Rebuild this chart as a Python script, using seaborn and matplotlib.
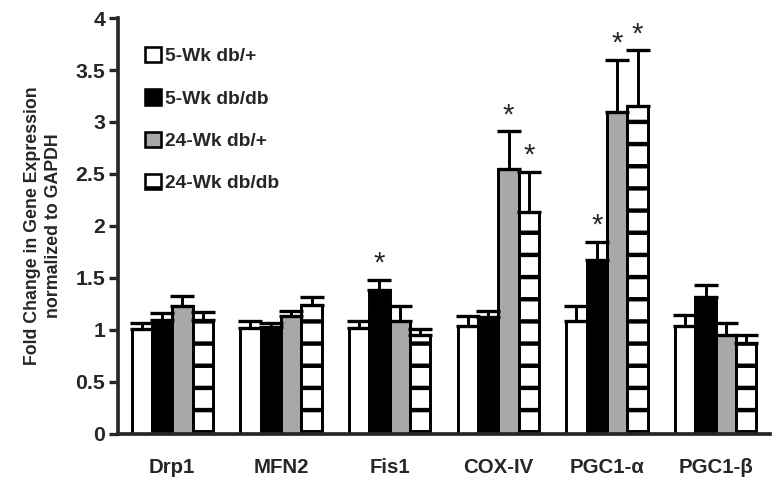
import matplotlib
matplotlib.use("Agg")
import matplotlib.pyplot as plt
from matplotlib.patches import Patch
import seaborn as sns
import pandas as pd
import numpy as np

genes = ["Drp1", "MFN2", "Fis1", "COX-IV", "PGC1-α", "PGC1-β"]
groups = ["5-Wk db/+", "5-Wk db/db", "24-Wk db/+", "24-Wk db/db"]

vals_5wk_dbplus = [1.01, 1.02, 1.02, 1.04, 1.09, 1.04]
vals_5wk_dbdb = [1.10, 1.03, 1.38, 1.12, 1.67, 1.32]
vals_24wk_dbplus = [1.23, 1.13, 1.09, 2.55, 3.10, 0.95]
vals_24wk_dbdb = [1.10, 1.24, 0.95, 2.13, 3.15, 0.87]

err_5wk_dbplus = [0.06, 0.07, 0.07, 0.09, 0.14, 0.10]
err_5wk_dbdb = [0.06, 0.04, 0.10, 0.06, 0.18, 0.11]
err_24wk_dbplus = [0.10, 0.05, 0.14, 0.36, 0.50, 0.12]
err_24wk_dbdb = [0.07, 0.08, 0.06, 0.39, 0.54, 0.08]

sig_5wk_dbplus = [False] * 6
sig_5wk_dbdb = [False, False, True, False, True, False]
sig_24wk_dbplus = [False, False, False, True, True, False]
sig_24wk_dbdb = [False, False, False, True, True, False]

all_vals = [vals_5wk_dbplus, vals_5wk_dbdb, vals_24wk_dbplus, vals_24wk_dbdb]
all_errs = [err_5wk_dbplus, err_5wk_dbdb, err_24wk_dbplus, err_24wk_dbdb]
all_sig = [sig_5wk_dbplus, sig_5wk_dbdb, sig_24wk_dbplus, sig_24wk_dbdb]

rows = []
for g, vals in zip(groups, all_vals):
    for gene, v in zip(genes, vals):
        rows.append({"gene": gene, "group": g, "value": v})
df = pd.DataFrame(rows)

sns.set_style("ticks")
plt.rcParams["font.family"] = ["Liberation Sans", "DejaVu Sans"]
plt.rcParams["font.weight"] = "bold"
plt.rcParams["hatch.linewidth"] = 2.4
plt.rcParams["hatch.color"] = "black"

DPI = 133
fig = plt.figure(figsize=(781 / DPI, 487 / DPI), dpi=DPI)
ax = fig.add_axes([0.151, 0.109, 0.835, 0.854])

colors = {"5-Wk db/+": "white", "5-Wk db/db": "black",
          "24-Wk db/+": "#a8a8a8", "24-Wk db/db": "white"}

sns.barplot(data=df, x="gene", y="value", hue="group", hue_order=groups,
            order=genes, palette=colors, width=0.75, edgecolor="black",
            linewidth=1.6, saturation=1, legend=False, ax=ax, errorbar=None)

bar_conts = list(ax.containers)
for i, cont in enumerate(bar_conts):
    xs, ys = [], []
    for bar in cont:
        if i == 3:
            bar.set_hatch("-")
        xs.append(bar.get_x() + bar.get_width() / 2)
        ys.append(bar.get_height())
    errs = all_errs[i]
    ax.errorbar(xs, ys, yerr=[np.zeros(len(errs)), errs], fmt="none",
                ecolor="black", elinewidth=1.6, capsize=6.5, capthick=1.8,
                zorder=1)
    for x, y, e, s in zip(xs, ys, errs, all_sig[i]):
        if s:
            ax.text(x, y + e + 0.02, "*", ha="center", va="bottom",
                    fontsize=16, fontweight="normal")

ax.set_xlim(-0.5, 5.5)
ax.set_ylim(0, 4)
ax.set_yticks([0, 0.5, 1, 1.5, 2, 2.5, 3, 3.5, 4])
ax.set_yticklabels(["0", "0.5", "1", "1.5", "2", "2.5", "3", "3.5", "4"])
ax.tick_params(axis="y", length=5, width=1.8, labelsize=11.5, pad=2)
ax.tick_params(axis="x", length=0, labelsize=11, pad=13)
for lab in ax.get_xticklabels() + ax.get_yticklabels():
    lab.set_fontweight("bold")
ax.set_xlabel("")
ax.set_ylabel("Fold Change in Gene Expression\nnormalized to GAPDH",
              fontsize=9.6, fontweight="bold", labelpad=7, linespacing=1.35)
for side in ["top", "right"]:
    ax.spines[side].set_visible(False)
for side in ["left", "bottom"]:
    ax.spines[side].set_linewidth(2.0)

handles = []
for g in groups:
    p = Patch(facecolor=colors[g], edgecolor="black", linewidth=1.4,
              hatch="-" if g == "24-Wk db/db" else None)
    handles.append(p)
leg = ax.legend(handles, groups, loc="upper left", bbox_to_anchor=(0.015, 0.972),
                frameon=False, handlelength=0.85, handleheight=0.85,
                handletextpad=0.2, labelspacing=1.25,
                prop={"weight": "bold", "size": 10.4})

fig.savefig("out.png", dpi=DPI)
